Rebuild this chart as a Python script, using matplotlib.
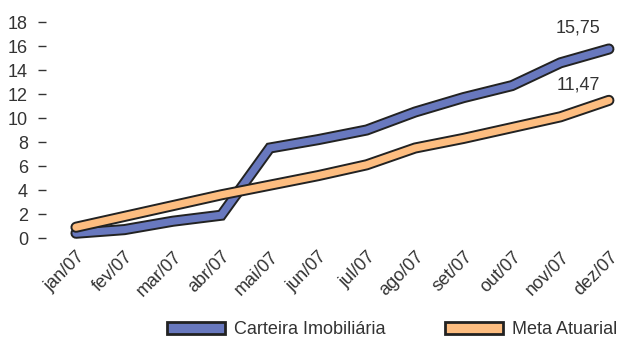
import matplotlib.pyplot as plt
import matplotlib.patheffects as pe
from matplotlib.patches import Patch

plt.rcParams['font.family'] = ['Liberation Sans', 'DejaVu Sans']

meses = ['jan/07', 'fev/07', 'mar/07', 'abr/07', 'mai/07', 'jun/07',
         'jul/07', 'ago/07', 'set/07', 'out/07', 'nov/07', 'dez/07']
carteira = [0.4, 0.7, 1.4, 1.9, 7.5, 8.2, 9.0, 10.5, 11.7, 12.7, 14.6, 15.75]
meta = [0.9, 1.8, 2.7, 3.6, 4.4, 5.2, 6.1, 7.5, 8.3, 9.2, 10.1, 11.47]
y_ticks = [0, 2, 4, 6, 8, 10, 12, 14, 16, 18]

azul = '#6878BE'
laranja = '#FDBD80'
contorno = '#222222'
texto = '#333333'
fs = 13

fig = plt.figure(figsize=(6.21, 3.42), dpi=100)
ax = fig.add_axes([0.074, 0.2865, 0.926, 0.6667])

x = list(range(len(meses)))
outline = [pe.Stroke(linewidth=8, foreground=contorno), pe.Normal()]
for serie, cor in [(carteira, azul), (meta, laranja)]:
    ax.plot(x, serie, color=cor, lw=5.2, solid_capstyle='round',
            solid_joinstyle='miter', path_effects=outline, clip_on=False)

# valores finais acima das pontas
ax.annotate('15,75', (x[-1], carteira[-1]), xytext=(-22, 15),
            textcoords='offset points', ha='center', va='center',
            fontsize=fs, color=texto)
ax.annotate('11,47', (x[-1], meta[-1]), xytext=(-22, 11),
            textcoords='offset points', ha='center', va='center',
            fontsize=fs, color=texto)

ax.set_xlim(-0.62, 11.25)
ax.set_ylim(-0.5, 18.5)
ax.set_yticks(y_ticks)
ax.set_xticks(x)
ax.set_xticklabels(meses, rotation=45, ha='right', va='top',
                   rotation_mode='anchor')
for s in ax.spines.values():
    s.set_visible(False)
ax.tick_params(axis='y', length=6, width=1, color=texto, pad=7,
               labelsize=fs, labelcolor=texto)
ax.tick_params(axis='x', length=0, pad=3, labelsize=fs, labelcolor=texto)

handles = [Patch(facecolor=azul, edgecolor=contorno, lw=2),
           Patch(facecolor=laranja, edgecolor=contorno, lw=2)]
fig.legend(handles, ['Carteira Imobiliária', 'Meta Atuarial'], ncol=2,
           loc='lower right', bbox_to_anchor=(1.0, 0.0), frameon=False,
           fontsize=fs, handlelength=3.2, handleheight=0.7,
           columnspacing=3.3, handletextpad=0.5, labelcolor=texto,
           borderaxespad=0.0, borderpad=0.2)

fig.savefig('out.png', dpi=100)
